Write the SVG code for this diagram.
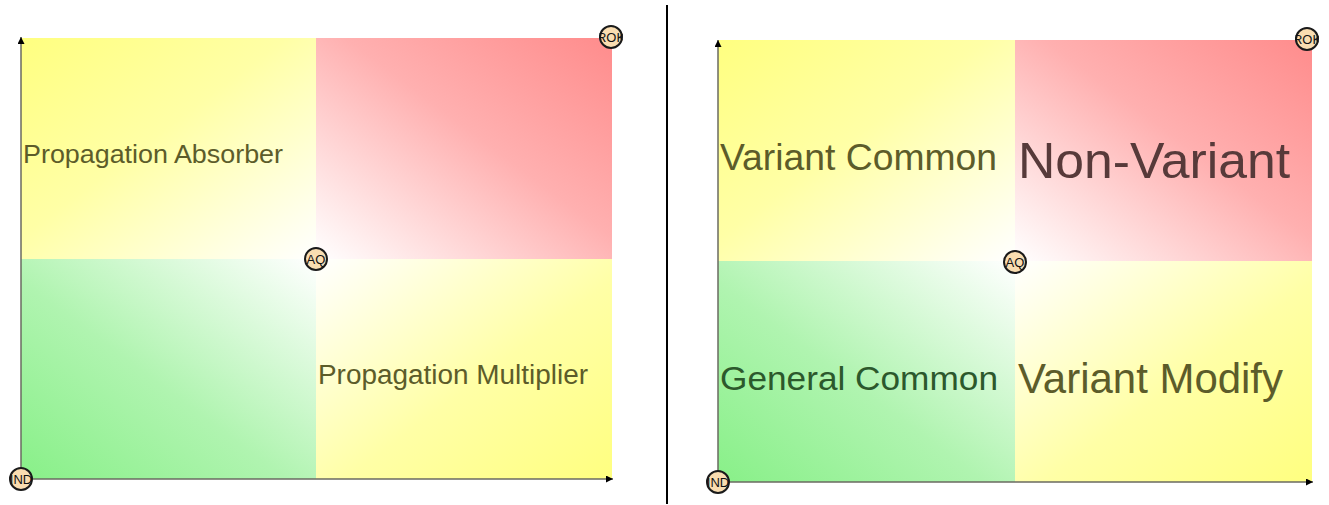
<svg xmlns="http://www.w3.org/2000/svg" width="1329" height="505" viewBox="0 0 1329 505">
<style>
.lbl{font-family:"Liberation Sans",Arial,sans-serif;}
.olive{fill:#5c5c2a;}
.red{fill:#573a3a;}
.green{fill:#2c582c;}
.axis{stroke:#6a6a60;stroke-width:1.5;fill:none;}
.pt{fill:#f9ddb1;stroke:#1a1a1a;stroke-width:2;}
.ptxt{font-family:"Liberation Sans",Arial,sans-serif;font-size:13px;fill:#111;text-anchor:middle;}
</style>
<defs>
<linearGradient id="gTL" x1="0" y1="0" x2="1" y2="1"><stop offset="0" stop-color="#ffff80"/><stop offset="0.45" stop-color="#ffffa6"/><stop offset="1" stop-color="#ffffff"/></linearGradient>
<linearGradient id="gTR" x1="1" y1="0" x2="0" y2="1"><stop offset="0" stop-color="#ff8c8c"/><stop offset="0.45" stop-color="#ffb0b0"/><stop offset="1" stop-color="#ffffff"/></linearGradient>
<linearGradient id="gBL" x1="0" y1="1" x2="1" y2="0"><stop offset="0" stop-color="#88f088"/><stop offset="0.45" stop-color="#b0f4b0"/><stop offset="1" stop-color="#ffffff"/></linearGradient>
<linearGradient id="gBR" x1="1" y1="1" x2="0" y2="0"><stop offset="0" stop-color="#ffff80"/><stop offset="0.45" stop-color="#ffffa6"/><stop offset="1" stop-color="#ffffff"/></linearGradient>
<marker id="arr" viewBox="0 0 10 10" refX="10" refY="5" markerWidth="7" markerHeight="7" markerUnits="userSpaceOnUse" orient="auto"><path d="M0,0 L10,5 L0,10 z" fill="#000"/></marker>
<clipPath id="cROK1"><circle cx="611" cy="37" r="12"/></clipPath>
<clipPath id="cIND1"><circle cx="21" cy="479" r="12"/></clipPath>
<clipPath id="cROK2"><circle cx="1307" cy="39" r="12"/></clipPath>
<clipPath id="cIND2"><circle cx="718" cy="482" r="12"/></clipPath>
</defs>
<rect width="1329" height="505" fill="#ffffff"/>

<!-- Left chart -->
<g id="left-top-left"><rect x="21" y="38" width="295" height="221" fill="url(#gTL)"/><text class="lbl olive" x="23" y="163" font-size="26" textLength="260" lengthAdjust="spacingAndGlyphs">Propagation Absorber</text></g>
<g id="left-top-right"><rect x="316" y="38" width="296" height="221" fill="url(#gTR)"/></g>
<g id="left-bottom-left"><rect x="21" y="259" width="295" height="220" fill="url(#gBL)"/></g>
<g id="left-bottom-right"><rect x="316" y="259" width="296" height="220" fill="url(#gBR)"/><text class="lbl olive" x="318" y="384" font-size="27" textLength="270" lengthAdjust="spacingAndGlyphs">Propagation Multiplier</text></g>

<!-- Right chart -->
<g id="right-top-left"><rect x="718" y="40" width="297" height="221" fill="url(#gTL)"/><text class="lbl olive" x="720" y="170" font-size="36" textLength="277" lengthAdjust="spacingAndGlyphs">Variant Common</text></g>
<g id="right-top-right"><rect x="1015" y="40" width="297" height="221" fill="url(#gTR)"/><text class="lbl red" x="1018" y="178" font-size="50" textLength="272" lengthAdjust="spacingAndGlyphs">Non-Variant</text></g>
<g id="right-bottom-left"><rect x="718" y="261" width="297" height="221" fill="url(#gBL)"/><text class="lbl green" x="720" y="390" font-size="34" textLength="278" lengthAdjust="spacingAndGlyphs">General Common</text></g>
<g id="right-bottom-right"><rect x="1015" y="261" width="297" height="221" fill="url(#gBR)"/><text class="lbl olive" x="1018" y="393" font-size="42" textLength="265" lengthAdjust="spacingAndGlyphs">Variant Modify</text></g>

<g id="connectors">
<line class="axis" x1="21" y1="479" x2="21" y2="37" marker-end="url(#arr)"/>
<line class="axis" x1="21" y1="479" x2="613" y2="479" marker-end="url(#arr)"/>
<line class="axis" x1="718" y1="482" x2="718" y2="40" marker-end="url(#arr)"/>
<line class="axis" x1="718" y1="482" x2="1313" y2="482" marker-end="url(#arr)"/>
<line x1="667" y1="5" x2="667" y2="504" stroke="#000" stroke-width="2"/>
</g>

<g id="ROK-left"><circle class="pt" cx="611" cy="37" r="11"/><text class="ptxt" x="611" y="42" clip-path="url(#cROK1)">ROK</text></g>
<g id="AQ-left"><circle class="pt" cx="316" cy="259" r="11"/><text class="ptxt" x="316" y="264">AQ</text></g>
<g id="IND-left"><circle class="pt" cx="21" cy="479" r="11"/><text class="ptxt" x="21" y="484" clip-path="url(#cIND1)">IND</text></g>
<g id="ROK-right"><circle class="pt" cx="1307" cy="39" r="11"/><text class="ptxt" x="1307" y="44" clip-path="url(#cROK2)">ROK</text></g>
<g id="AQ-right"><circle class="pt" cx="1015" cy="262" r="11"/><text class="ptxt" x="1015" y="267">AQ</text></g>
<g id="IND-right"><circle class="pt" cx="718" cy="482" r="11"/><text class="ptxt" x="718" y="487" clip-path="url(#cIND2)">IND</text></g>
</svg>
